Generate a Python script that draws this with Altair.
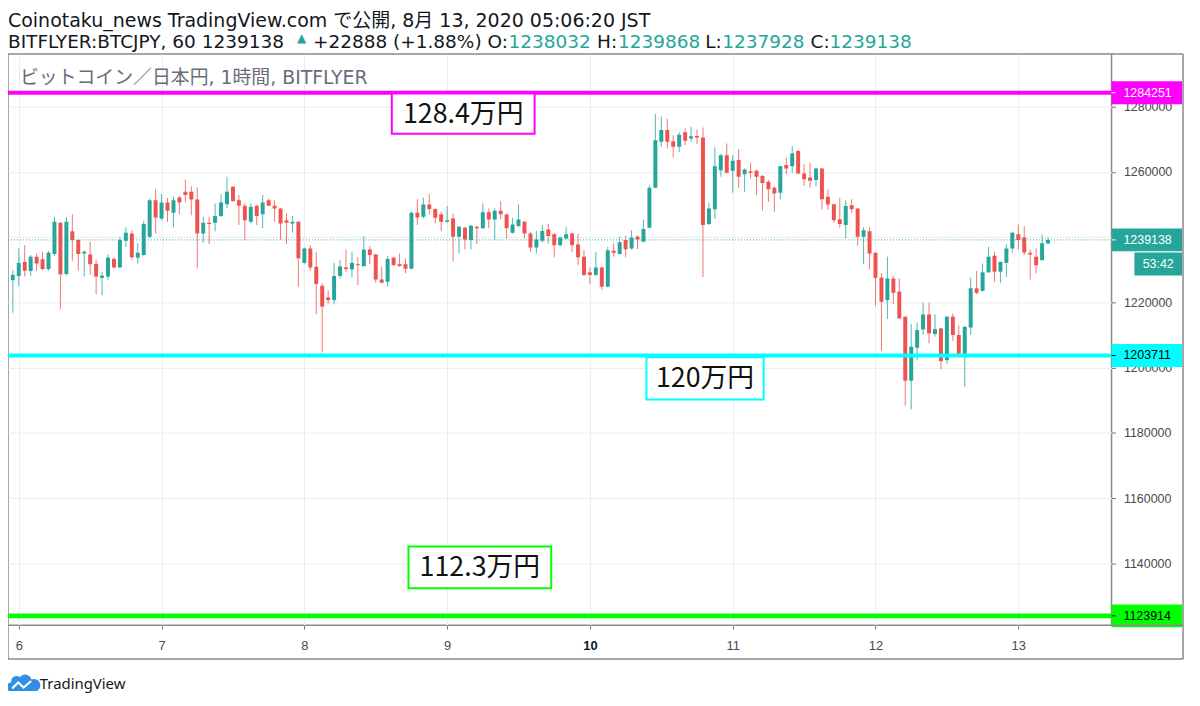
import altair as alt
import pandas as pd

# ---------------- data (hourly candles, BITFLYER BTC/JPY, thousand JPY) ----------------
# hour 0 = 2020-08-06 00:00 JST
hours = list(range(-1, 174))
opens = [
    1226.8, 1228.1, 1232.4, 1229.6, 1234.0, 1233.2, 1230.2, 1234.8, 1244.4, 1228.7, 1241.8,
    1239.1, 1235.0, 1234.7, 1231.8, 1227.5, 1227.9, 1233.3, 1230.7, 1238.9, 1241.1,
    1233.7, 1234.5, 1240.1, 1251.3, 1245.7, 1250.6, 1247.5, 1252.1, 1253.9, 1253.9,
    1251.5, 1241.1, 1244.4, 1244.4, 1246.5, 1250.1, 1255.4, 1251.3, 1249.6, 1244.7,
    1249.6, 1247.0, 1251.3, 1249.6, 1248.8, 1245.2, 1244.2, 1244.7, 1232.1, 1236.5,
    1230.9, 1225.1, 1221.5, 1220.7, 1228.1, 1230.7, 1230.1, 1231.7, 1231.1, 1236.2,
    1234.7, 1227.0, 1226.3, 1233.7, 1231.7, 1231.7, 1230.3, 1247.5, 1246.2, 1250.0,
    1248.6, 1247.0, 1244.7, 1245.7, 1240.1, 1242.9, 1239.1, 1243.2, 1242.7, 1247.6,
    1245.4, 1248.1, 1246.9, 1241.3, 1243.4, 1244.7, 1241.1, 1236.8, 1238.9, 1242.3,
    1240.9, 1237.5, 1239.6, 1241.1, 1237.7, 1234.0, 1229.2, 1228.4, 1230.7, 1224.8,
    1235.8, 1234.8, 1239.1, 1236.5, 1240.1, 1238.6, 1242.9, 1255.1, 1269.2, 1272.8,
    1269.4, 1267.7, 1272.1, 1270.2, 1271.0, 1270.5, 1244.0, 1248.5, 1260.5, 1265.1,
    1260.3, 1263.6, 1259.3, 1260.2, 1260.3, 1258.7, 1257.0, 1255.1, 1253.6, 1262.1,
    1261.7, 1266.4, 1259.5, 1258.3, 1257.5, 1261.0, 1252.4, 1250.1, 1245.5, 1243.7,
    1249.8, 1248.8, 1240.1, 1241.8, 1235.2, 1227.6, 1220.7, 1227.3, 1223.3, 1215.6,
    1196.0, 1206.1, 1211.7, 1216.3, 1210.3, 1212.0, 1202.3, 1215.6, 1210.0, 1204.2,
    1212.3, 1224.3, 1223.5, 1229.2, 1234.3, 1229.4, 1232.1, 1236.5, 1240.9, 1239.9,
    1235.2, 1234.0, 1233.0, 1238.032,
]
highs = [
    1229.9, 1236.5, 1237.5, 1234.5, 1235.0, 1235.5, 1235.7, 1246.2, 1244.7, 1246.2, 1247.0,
    1239.3, 1236.0, 1238.6, 1233.0, 1229.4, 1234.7, 1233.8, 1240.1, 1243.0, 1242.1,
    1238.1, 1245.0, 1251.8, 1254.7, 1253.2, 1252.0, 1252.4, 1252.6, 1257.7, 1255.6,
    1255.2, 1246.2, 1246.2, 1250.3, 1253.2, 1258.5, 1255.6, 1252.9, 1250.3, 1250.3,
    1250.0, 1252.9, 1251.8, 1251.3, 1249.0, 1247.2, 1246.5, 1244.9, 1236.8, 1237.5,
    1235.5, 1225.8, 1223.6, 1232.1, 1233.0, 1236.2, 1235.5, 1233.8, 1240.3, 1237.2,
    1234.9, 1230.9, 1234.2, 1234.0, 1235.0, 1233.5, 1247.8, 1251.6, 1252.1, 1253.2,
    1248.8, 1247.8, 1249.5, 1247.2, 1243.4, 1243.2, 1243.7, 1243.4, 1250.3, 1248.8,
    1248.8, 1251.0, 1247.2, 1245.9, 1250.0, 1245.0, 1241.6, 1241.9, 1243.7, 1244.0,
    1241.3, 1240.1, 1243.2, 1241.4, 1241.1, 1236.0, 1230.7, 1235.5, 1230.9, 1237.0,
    1238.1, 1240.1, 1240.3, 1242.1, 1240.6, 1245.4, 1255.9, 1277.7, 1276.9, 1276.3,
    1271.2, 1272.1, 1273.3, 1273.8, 1273.0, 1273.6, 1250.5, 1267.5, 1265.6, 1268.7,
    1265.1, 1267.0, 1261.0, 1262.8, 1260.7, 1259.0, 1257.5, 1255.6, 1261.8, 1264.3,
    1267.9, 1266.6, 1262.4, 1262.8, 1261.2, 1261.1, 1254.6, 1250.2, 1252.0, 1251.3,
    1251.6, 1248.9, 1243.0, 1243.0, 1235.3, 1228.9, 1234.0, 1228.1, 1227.3, 1215.7,
    1213.4, 1213.8, 1219.9, 1219.9, 1216.3, 1212.1, 1215.7, 1216.6, 1213.0, 1212.7,
    1227.6, 1229.6, 1231.9, 1237.0, 1235.5, 1232.5, 1237.8, 1241.6, 1243.9, 1243.4,
    1236.2, 1236.5, 1240.8, 1239.868,
]
lows = [
    1216.8, 1225.0, 1227.9, 1228.1, 1229.7, 1229.7, 1229.7, 1234.2, 1217.8, 1228.1, 1232.7,
    1229.7, 1227.9, 1228.6, 1222.5, 1222.2, 1226.8, 1230.4, 1230.6, 1237.0, 1233.0,
    1231.9, 1234.3, 1239.6, 1241.1, 1245.2, 1244.7, 1243.0, 1247.0, 1250.6, 1246.7,
    1230.4, 1238.3, 1237.9, 1241.8, 1246.2, 1248.8, 1250.8, 1243.7, 1239.1, 1244.2,
    1243.7, 1242.7, 1249.5, 1244.7, 1239.1, 1237.9, 1241.4, 1224.8, 1231.7, 1229.7,
    1216.4, 1204.6, 1219.4, 1219.4, 1227.3, 1229.4, 1227.6, 1225.3, 1231.0, 1231.7,
    1226.0, 1225.8, 1224.8, 1231.2, 1230.9, 1228.9, 1230.2, 1243.7, 1245.7, 1246.9,
    1244.2, 1241.8, 1244.4, 1232.6, 1235.0, 1236.2, 1236.2, 1237.9, 1242.5, 1242.7,
    1239.1, 1245.5, 1239.6, 1241.1, 1243.0, 1239.6, 1235.5, 1235.0, 1238.3, 1238.1,
    1233.8, 1237.2, 1239.3, 1235.3, 1231.4, 1228.1, 1225.6, 1228.1, 1223.8, 1224.6,
    1234.0, 1234.7, 1233.8, 1236.2, 1236.3, 1238.5, 1242.8, 1255.0, 1267.7, 1267.2,
    1264.4, 1266.1, 1268.2, 1269.2, 1268.5, 1227.8, 1243.7, 1245.5, 1258.5, 1259.5,
    1253.6, 1255.1, 1253.9, 1258.0, 1252.9, 1248.1, 1250.8, 1247.8, 1251.6, 1259.3,
    1259.7, 1259.3, 1255.7, 1255.1, 1255.6, 1248.5, 1248.3, 1244.4, 1242.9, 1239.6,
    1247.5, 1237.3, 1231.7, 1230.1, 1218.9, 1205.2, 1214.9, 1219.4, 1215.0, 1188.3,
    1187.2, 1202.3, 1210.0, 1207.4, 1209.5, 1199.5, 1201.1, 1208.2, 1204.1, 1194.2,
    1210.0, 1222.5, 1223.4, 1229.1, 1226.3, 1226.0, 1227.8, 1235.2, 1236.2, 1234.5,
    1227.0, 1228.9, 1232.7, 1237.928,
]
closes = [
    1228.4, 1232.1, 1229.7, 1234.0, 1231.9, 1230.2, 1235.2, 1244.7, 1228.6, 1244.7, 1239.1,
    1234.8, 1235.5, 1231.7, 1227.9, 1228.2, 1233.7, 1230.7, 1239.1, 1241.3, 1233.8,
    1235.2, 1244.0, 1251.3, 1246.0, 1250.6, 1248.1, 1251.3, 1250.6, 1252.9, 1251.5,
    1241.1, 1244.4, 1244.0, 1246.5, 1250.6, 1253.9, 1251.1, 1249.6, 1245.2, 1249.3,
    1246.5, 1250.6, 1249.6, 1248.8, 1244.2, 1244.4, 1244.7, 1233.5, 1236.5, 1230.7,
    1225.6, 1218.7, 1220.7, 1228.1, 1231.0, 1230.2, 1232.1, 1231.4, 1236.2, 1234.5,
    1227.0, 1226.0, 1233.3, 1231.4, 1231.1, 1230.3, 1247.5, 1246.0, 1250.0, 1248.6,
    1245.9, 1244.7, 1245.2, 1240.1, 1243.2, 1239.3, 1243.5, 1242.7, 1247.6, 1245.4,
    1248.1, 1247.0, 1242.7, 1243.9, 1245.4, 1241.1, 1236.8, 1239.3, 1241.9, 1240.3,
    1237.5, 1239.9, 1240.9, 1237.5, 1233.8, 1228.4, 1228.4, 1230.7, 1224.8, 1236.0,
    1235.2, 1238.4, 1236.3, 1239.9, 1239.3, 1242.5, 1255.1, 1269.7, 1272.8, 1269.2,
    1267.7, 1271.4, 1269.5, 1270.9, 1270.5, 1243.7, 1248.8, 1261.7, 1265.1, 1259.7,
    1263.4, 1258.5, 1260.7, 1259.7, 1258.5, 1256.6, 1254.7, 1253.4, 1261.7, 1261.0,
    1265.6, 1259.5, 1257.7, 1257.3, 1261.0, 1251.6, 1250.0, 1245.2, 1244.0, 1249.5,
    1248.5, 1240.1, 1242.1, 1235.0, 1227.5, 1220.2, 1227.3, 1222.9, 1215.1, 1196.0,
    1206.4, 1211.5, 1216.3, 1210.5, 1211.8, 1202.0, 1215.6, 1210.0, 1204.2, 1212.5,
    1224.3, 1222.9, 1229.2, 1234.0, 1229.4, 1232.4, 1236.5, 1241.3, 1239.1, 1235.3,
    1234.7, 1231.4, 1238.1, 1239.138,
]

level_prices = [1284251, 1203711, 1123914]
level_colors = ["#ff00ff", "#00ffff", "#00ff00"]
level_text_colors = ["#ffffff", "#000000", "#000000"]
last_price = 1239138
countdown = "53:42"

note_texts = ["128.4万円", "120万円", "112.3万円"]
note_colors = ["#ff00ff", "#00ffff", "#00ff00"]
# box extents: hours and prices (JPY)
note_h1 = [62.7, 105.5, 65.5]
note_h2 = [86.7, 125.2, 89.5]
note_p_top = [1284000, 1203200, 1145200]
note_p_bot = [1271700, 1190200, 1132400]

day_ticks = [0, 24, 48, 72, 96, 120, 144, 168]
price_ticks = [1140000, 1160000, 1180000, 1200000, 1220000, 1240000, 1260000, 1280000]

# ---------------- frame ----------------
W, H = 1111, 575
YMIN, YMAX = 1121063, 1296101
XMIN, XMAX = -0.976, 182.84
px_per_yen = H / (YMAX - YMIN)

UP, DOWN = "#26a69a", "#ef5350"
DARK = "#131722"
FRAME = "#8a8a8a"
HEAD = "'DejaVu Sans', 'Noto Sans CJK JP', sans-serif"

df = pd.DataFrame({
    "h": hours,
    "o": [v * 1000 for v in opens],
    "hi": [v * 1000 for v in highs],
    "lo": [v * 1000 for v in lows],
    "c": [v * 1000 for v in closes],
})
df["dir"] = ["up" if c >= o else "down" for o, c in zip(df["o"], df["c"])]

xscale = alt.Scale(domain=[XMIN, XMAX], nice=False, zero=False)
yscale = alt.Scale(domain=[YMIN, YMAX], nice=False, zero=False)
xaxis = alt.Axis(
    values=day_ticks, labelExpr="format(datum.value / 24 + 6, 'd')",
    grid=True, gridColor="#e9edf2", domain=False, ticks=True, tickSize=4,
    tickColor="#777777", labelFont="Liberation Sans", labelFontSize=13,
    labelColor={"condition": {"test": "datum.value == 96", "value": "#131722"}, "value": "#4a4a4a"},
    labelFontWeight={"condition": {"test": "datum.value == 96", "value": "bold"}, "value": "normal"},
    labelPadding=10, title=None,
)
yaxis = alt.Axis(
    orient="right", values=price_ticks, format="d", grid=True, gridColor="#e9edf2",
    domain=False, tickSize=4, tickColor="#777777", labelFont="Liberation Sans",
    labelFontSize=12.5, labelColor="#4a4a4a", labelPadding=8, title=None,
)


def X(f):
    return alt.X(f, type="quantitative", scale=xscale, axis=xaxis, title=None)


def Y(f):
    return alt.Y(f, type="quantitative", scale=yscale, axis=yaxis, title=None)


color = alt.Color("dir:N", scale=alt.Scale(domain=["up", "down"], range=[UP, DOWN]), legend=None)

base = alt.Chart(df)
wicks = base.mark_rule(strokeWidth=1, opacity=0.8, clip=True).encode(
    x=X("h"), y=Y("lo"), y2="hi:Q", color=color)
bodies = base.mark_bar(size=4, clip=True).encode(
    x=X("h"), y=Y("o"), y2="c:Q", color=color)

last_line = alt.Chart(pd.DataFrame({"p": [last_price]})).mark_rule(
    color=UP, strokeWidth=1, strokeDash=[1, 2]).encode(y=Y("p"))

layers = [wicks, bodies, last_line]

widths = [4, 4, 5]
for p, col, w in zip(level_prices, level_colors, widths):
    layers.append(alt.Chart(pd.DataFrame({"p": [p]})).mark_rule(color=col, strokeWidth=w).encode(y=Y("p")))

# annotation boxes
notes = pd.DataFrame({
    "t": note_texts, "col": note_colors, "h1": note_h1, "h2": note_h2,
    "p1": note_p_top, "p2": note_p_bot,
})
notes["hc"] = (notes["h1"] + notes["h2"]) / 2
notes["pc"] = (notes["p1"] + notes["p2"]) / 2
layers.append(alt.Chart(notes).mark_rect(fill="white", strokeWidth=2).encode(
    x=X("h1"), x2="h2:Q", y=Y("p1"), y2="p2:Q", stroke=alt.Stroke("col:N", scale=None)))
layers.append(alt.Chart(notes).mark_text(font="Noto Sans CJK JP", fontSize=27, color="#111111",
                                          baseline="middle", dy=1).encode(
    x=X("hc"), y=Y("pc"), text="t:N"))

# right-axis price boxes
half = 11.5 / px_per_yen
tags = pd.DataFrame({
    "p": level_prices + [last_price],
    "label": [str(v) for v in level_prices] + [str(last_price)],
    "fill": level_colors + [UP],
    "tc": level_text_colors + ["#ffffff"],
})
tags["top"] = tags["p"] + half
tags["bot"] = tags["p"] - half
layers.append(alt.Chart(tags).mark_rect().encode(
    x=alt.value(W), x2=alt.value(W + 71), y=Y("top"), y2="bot:Q",
    color=alt.Color("fill:N", scale=None)))
layers.append(alt.Chart(tags).mark_rule(strokeWidth=1).encode(
    x=alt.value(W), x2=alt.value(W + 4), y=Y("p"), color=alt.Color("tc:N", scale=None)))
layers.append(alt.Chart(tags).mark_text(align="left", baseline="middle", font="Liberation Sans",
                                         fontSize=12.5).encode(
    x=alt.value(W + 12), y=Y("p"), text="label:N", color=alt.Color("tc:N", scale=None)))

cd_center = last_price - 24.2 / px_per_yen
cd = pd.DataFrame({"p": [cd_center], "top": [cd_center + half], "bot": [cd_center - half], "t": [countdown]})
layers.append(alt.Chart(cd).mark_rect(color=UP).encode(
    x=alt.value(W + 23), x2=alt.value(W + 71), y=Y("top"), y2="bot:Q"))
layers.append(alt.Chart(cd).mark_text(align="center", baseline="middle", font="Liberation Sans",
                                       fontSize=12.5, color="white").encode(
    x=alt.value(W + 47), y=Y("p"), text="t:N"))


# frame lines outside the plot box
def rule(x1, x2, y1, y2):
    return alt.Chart(pd.DataFrame({"a": [0]})).mark_rule(color=FRAME, strokeWidth=1.5).encode(
        x=alt.value(x1), x2=alt.value(x2), y=alt.value(y1), y2=alt.value(y2))


layers += [
    rule(W, W + 72, 0, 0),
    rule(W + 72, W + 72, 0, H + 34),
    rule(0, W + 72, H + 34, H + 34),
    rule(0, 0, H, H + 34),
    rule(W, W + 72, H, H),
]


def txt(s, x, y, size, col, font=HEAD, weight="normal", baseline="alphabetic"):
    return alt.Chart(pd.DataFrame({"t": [s]})).mark_text(
        align="left", baseline=baseline, font=font, fontSize=size, color=col, fontWeight=weight
    ).encode(x=alt.value(x), y=alt.value(y), text="t:N")


HS = 18.6
layers += [
    txt("Coinotaku_news TradingView.com で公開, 8月 13, 2020 05:06:20 JST", 0, -27, 19.1, DARK),
    txt("BITFLYER:BTCJPY, 60 1239138", 0, -6, HS, DARK),
    txt("▲", 291, -16, 12, UP, baseline="middle"),
    txt("+22888 (+1.88%) O:", 307, -6, HS, DARK),
    txt("1238032", 504, -6, HS, UP),
    txt("H:", 593, -6, HS, DARK),
    txt("1239868", 614, -6, HS, UP),
    txt("L:", 702, -6, HS, DARK),
    txt("1237928", 719, -6, HS, UP),
    txt("C:", 808, -6, HS, DARK),
    txt("1239138", 827, -6, HS, UP),
    txt("ビットコイン／日本円, 1時間, BITFLYER", 12, 30, 19, "#6a6d78"),
    txt("TradingView", 32, 639, 15, DARK, font="'Noto Sans', sans-serif"),
]

cloud = ("M -0.92 0.55 A 0.3 0.3 0 0 1 -0.78 -0.02 A 0.36 0.36 0 0 1 -0.2 -0.38 "
         "A 0.44 0.44 0 0 1 0.58 -0.22 A 0.4 0.4 0 0 1 0.92 0.55 Z")
zig = "M -0.72 0.38 L -0.32 -0.02 L 0.05 0.32 L 0.55 -0.12"
layers.append(alt.Chart(pd.DataFrame({"a": [0]})).mark_point(
    shape=cloud, size=900, filled=True, fill="#2f8fe6", strokeWidth=0, opacity=1).encode(
    x=alt.value(15), y=alt.value(633)))
layers.append(alt.Chart(pd.DataFrame({"a": [0]})).mark_point(
    shape=zig, size=900, filled=False, stroke="white", strokeWidth=2, opacity=1).encode(
    x=alt.value(15), y=alt.value(633)))

chart = alt.layer(*layers).properties(
    width=W, height=H,
    padding={"left": 0, "top": 44, "right": 81, "bottom": 79},
    autosize=alt.AutoSizeParams(type="none"),
    background="white",
).configure_view(stroke=FRAME, strokeWidth=1.5)

chart.save("out.html", embed_options={"renderer": "svg", "actions": False})
